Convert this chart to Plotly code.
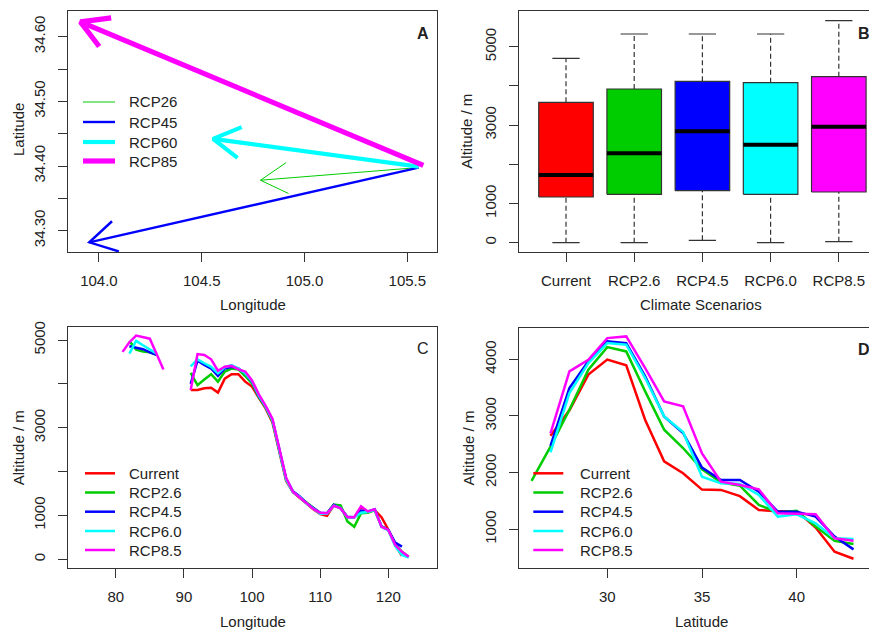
import math
import plotly.graph_objects as go

# The page body has an 8px default margin; the figure is sized so that it fills
# the 877x633 window exactly, and all positions below are given in window pixels.
OFF = 8
W, H = 877 - OFF, 633 - OFF
FONT = "Liberation Sans, Arial, sans-serif"

# ---------------- Panel A data (centroid shift arrows) ----------------
a_names = ["RCP26", "RCP45", "RCP60", "RCP85"]
a_start_lon = [105.550, 105.555, 105.555, 105.578]
a_start_lat = [34.3975, 34.3975, 34.399, 34.401]
a_end_lon = [104.786, 103.953, 104.555, 103.910]
a_end_lat = [34.378, 34.282, 34.442, 34.623]
a_colors = ["#00CD00", "#0000FF", "#00FFFF", "#FF00FF"]
a_widths = [1, 2.4, 4.2, 5.2]
a_xticks = [104.0, 104.5, 105.0, 105.5]
a_xtext = ["104.0", "104.5", "105.0", "105.5"]
a_yticks = [34.30, 34.35, 34.40, 34.45, 34.50, 34.55, 34.60]
a_ytext = ["34.30", "", "34.40", "", "34.50", "", "34.60"]

# ---------------- Panel B data (box plot) ----------------
b_cats = ["Current", "RCP2.6", "RCP4.5", "RCP6.0", "RCP8.5"]
b_low = [0, 0, 61, 0, 26]
b_q1 = [1166, 1235, 1327, 1235, 1293]
b_med = [1727, 2281, 2842, 2500, 2959]
b_q3 = [3582, 3921, 4117, 4082, 4235]
b_high = [4704, 5324, 5324, 5324, 5663]
b_colors = ["#FF0000", "#00CD00", "#0000FF", "#00FFFF", "#FF00FF"]

alt_ticks = [0, 1000, 2000, 3000, 4000, 5000]
alt_text = ["0", "1000", "", "3000", "", "5000"]

# ---------------- Panel C data (altitude vs longitude) ----------------
c_lon = list(range(81, 124))
c_current = [None, None, None, None, None, None, None, None, None, None,
             3860, 3860, 3900, 3910, 3800, 4120, 4220, 4220, 4050, 3940,
             3680, 3440, 3120, 2450, 1790, 1530, 1410, 1270, 1140, 1030,
             990, 1230, 1180, 950, 950, 1190, 1080, 1120, 960, 680,
             330, 80, None]
c_rcp26 = [None, 4980, 4780, 4740, 4720, 4660, None, None, None, None,
           4250, 3970, 4100, 4220, 4050, 4280, 4350, 4330, 4180, 4010,
           3700, 3460, 3150, 2480, 1820, 1540, 1420, 1280, 1160, 1050,
           1050, 1250, 1230, 860, 740, 1050, 1060, 1120, 750, 670,
           340, 170, 60]
c_rcp45 = [None, 4860, 4830, 4790, 4720, 4660, None, None, None, None,
           4000, 4530, 4430, 4350, 4180, 4350, 4390, 4350, 4240, 4050,
           3720, 3480, 3180, 2500, 1840, 1550, 1430, 1280, 1160, 1060,
           1050, 1240, 1160, 970, 960, 1110, 1090, 1140, 750, 670,
           380, 290, None]
c_rcp60 = [None, 4690, 4980, 4880, 4780, 4690, None, None, None, None,
           4400, 4560, 4470, 4390, 4240, 4380, 4430, 4350, 4240, 4060,
           3730, 3480, 3170, 2490, 1820, 1530, 1420, 1270, 1150, 1040,
           1040, 1220, 1170, 950, 950, 1060, 1080, 1130, 740, 660,
           300, 100, 40]
c_rcp85 = [4730, 4950, 5100, 5070, 5030, 4680, 4330, None, None, None,
           3860, 4680, 4660, 4560, 4300, 4390, 4410, 4330, 4280, 4080,
           3760, 3500, 3200, 2520, 1860, 1540, 1420, 1280, 1150, 1060,
           1050, 1220, 1160, 960, 960, 1210, 1090, 1140, 740, 670,
           330, 170, 60]
c_xticks = [80, 90, 100, 110, 120]

# ---------------- Panel D data (altitude vs latitude) ----------------
d_lat = list(range(26, 44))
d_current = [None, 2650, 3100, 3730, 3995, 3895, 2930, 2200, 1990, 1700,
             1695, 1585, 1340, 1320, 1320, 1030, 605, 480]
d_rcp26 = [1855, 2460, 3110, 3815, 4215, 4139, 3434, 2758, 2434, 2060,
           1830, 1770, 1430, 1295, 1325, 1047, 795, 741]
d_rcp45 = [None, 2470, 3493, 3963, 4316, 4286, 3698, 2992, 2700, 2090,
           1870, 1870, 1664, 1311, 1311, 1223, 870, 646]
d_rcp60 = [None, 2358, 3405, 3933, 4286, 4257, 3669, 2992, 2716, 1928,
           1811, 1799, 1605, 1223, 1264, 1105, 840, 828]
d_rcp85 = [None, 2693, 3787, 3992, 4374, 4404, 3845, 3257, 3169, 2340,
           1840, 1781, 1705, 1282, 1270, 1264, 840, 799]
d_xticks = [30, 35, 40]
d_yticks = [1000, 2000, 3000, 4000]

line_names = ["Current", "RCP2.6", "RCP4.5", "RCP6.0", "RCP8.5"]
line_colors = ["#FF0000", "#00CD00", "#0000FF", "#00FFFF", "#FF00FF"]


# ---------------- layout geometry (window pixels) ----------------
def px_x(p):
    return (p - OFF) / W


def px_y(p):
    return 1 - (p - OFF) / H


dom = {
    "A": ([68.3, 436.7], [11, 252]),
    "B": ([518.7, 877], [11, 251.7]),
    "C": ([68.3, 436.7], [327.3, 567.7]),
    "D": ([518.7, 877], [328.3, 567.7]),
}
rng = {
    "A": ([103.851, 105.643], [34.267, 34.6397]),
    "B": ([0.3065, 5.56], [-230, 5911]),
    "C": ([73.04, 127.1], [-192, 5290]),
    "D": ([25.322, 44.24], [322, 4547]),
}

fig = go.Figure()

# ---- Panel A arrows ----
(ax0, ax1), (ay0, ay1) = dom["A"]
(rx0, rx1), (ry0, ry1) = rng["A"]
xs = (ax1 - ax0) / (rx1 - rx0)   # px per unit lon
ys = (ay1 - ay0) / (ry1 - ry0)   # px per unit lat
HEAD_LEN = 31.0
HEAD_ANG = math.radians(30)
for i in range(len(a_names)):
    x0, y0 = a_start_lon[i], a_start_lat[i]
    x1, y1 = a_end_lon[i], a_end_lat[i]
    fig.add_trace(go.Scatter(x=[x0, x1], y=[y0, y1], mode="lines",
                             line=dict(color=a_colors[i], width=a_widths[i]),
                             xaxis="x", yaxis="y", showlegend=False, hoverinfo="skip"))
    dx = (x0 - x1) * xs
    dy = (y0 - y1) * ys
    ang = math.atan2(dy, dx)
    bx, by = [], []
    for s in (1, -1):
        bx.append(x1 + HEAD_LEN * math.cos(ang + s * HEAD_ANG) / xs)
        by.append(y1 + HEAD_LEN * math.sin(ang + s * HEAD_ANG) / ys)
    fig.add_trace(go.Scatter(x=[bx[0], x1, bx[1]], y=[by[0], y1, by[1]], mode="lines",
                             line=dict(color=a_colors[i], width=a_widths[i]),
                             xaxis="x", yaxis="y", showlegend=False, hoverinfo="skip"))

# ---- Panel B boxes ----
BW = 0.4
for i, cat in enumerate(b_cats):
    c = i + 1
    for ya, yb in ((b_q3[i], b_high[i]), (b_low[i], b_q1[i])):
        fig.add_trace(go.Scatter(x=[c, c], y=[ya, yb], mode="lines",
                                 line=dict(color="#333", width=1.2, dash="5px,3px"),
                                 xaxis="x2", yaxis="y2", showlegend=False, hoverinfo="skip"))
    for yv in (b_high[i], b_low[i]):
        fig.add_trace(go.Scatter(x=[c - BW / 2, c + BW / 2], y=[yv, yv], mode="lines",
                                 line=dict(color="#333", width=1.2),
                                 xaxis="x2", yaxis="y2", showlegend=False, hoverinfo="skip"))
    fig.add_trace(go.Scatter(x=[c - BW, c + BW, c + BW, c - BW, c - BW],
                             y=[b_q1[i], b_q1[i], b_q3[i], b_q3[i], b_q1[i]],
                             mode="lines", fill="toself", fillcolor=b_colors[i],
                             line=dict(color="#333", width=1.2),
                             xaxis="x2", yaxis="y2", showlegend=False, hoverinfo="skip"))
    fig.add_trace(go.Scatter(x=[c - BW, c + BW], y=[b_med[i], b_med[i]], mode="lines",
                             line=dict(color="#000", width=4),
                             xaxis="x2", yaxis="y2", showlegend=False, hoverinfo="skip"))

# ---- Panel C lines ----
for name, ys_, col in zip(line_names, [c_current, c_rcp26, c_rcp45, c_rcp60, c_rcp85], line_colors):
    fig.add_trace(go.Scatter(x=c_lon, y=ys_, mode="lines", name=name,
                             line=dict(color=col, width=2.5), connectgaps=False,
                             xaxis="x3", yaxis="y3", showlegend=False, hoverinfo="skip"))

# ---- Panel D lines ----
for name, ys_, col in zip(line_names, [d_current, d_rcp26, d_rcp45, d_rcp60, d_rcp85], line_colors):
    fig.add_trace(go.Scatter(x=d_lat, y=ys_, mode="lines", name=name,
                             line=dict(color=col, width=2.5), connectgaps=False,
                             xaxis="x4", yaxis="y4", showlegend=False, hoverinfo="skip"))

# ---------------- axes ----------------
tickfont = dict(family=FONT, size=15, color="#222")


def xaxis(panel, anchor, tickvals, ticktext=None, mirror=True):
    (x0, x1), (y0, y1) = dom[panel]
    d = dict(domain=[px_x(x0), min(1.0, px_x(x1))], range=rng[panel][0], anchor=anchor,
             showline=True, linecolor="#333", linewidth=1, mirror=mirror,
             ticks="outside", ticklen=9, tickcolor="#333", tickwidth=1,
             ticklabelstandoff=6,
             showgrid=False, zeroline=False, tickfont=tickfont, automargin=False,
             tickmode="array", tickvals=tickvals)
    if ticktext is not None:
        d["ticktext"] = ticktext
    return d


def yaxis(panel, anchor, tickvals, ticktext=None, mirror=True):
    (x0, x1), (y0, y1) = dom[panel]
    d = dict(domain=[px_y(y1), px_y(y0)], range=rng[panel][1], anchor=anchor,
             showline=True, linecolor="#333", linewidth=1, mirror=mirror,
             ticks="outside", ticklen=9, tickcolor="#333", tickwidth=1,
             ticklabelstandoff=7,
             showgrid=False, zeroline=False, tickfont=tickfont, tickangle=-90,
             automargin=False, tickmode="array", tickvals=tickvals)
    if ticktext is not None:
        d["ticktext"] = ticktext
    return d


fig.update_layout(
    template="none",
    width=W, height=H, autosize=False,
    margin=dict(l=0, r=0, t=0, b=0, pad=0),
    paper_bgcolor="white", plot_bgcolor="white",
    showlegend=False,
    xaxis=xaxis("A", "y", a_xticks, a_xtext),
    yaxis=yaxis("A", "x", a_yticks, a_ytext),
    xaxis2=xaxis("B", "y2", [1, 2, 3, 4, 5], b_cats),
    yaxis2=yaxis("B", "x2", alt_ticks, alt_text, mirror=False),
    xaxis3=xaxis("C", "y3", c_xticks),
    yaxis3=yaxis("C", "x3", alt_ticks, alt_text),
    xaxis4=xaxis("D", "y4", d_xticks),
    yaxis4=yaxis("D", "x4", d_yticks, mirror=False),
)

# ---------------- text annotations / legends ----------------
ann = []
shapes = []


def text(x, y, s, size=15, angle=0, xanchor="center", bold=False):
    ann.append(dict(x=px_x(x), y=px_y(y), xref="paper", yref="paper",
                    text=("<b>%s</b>" % s) if bold else s,
                    showarrow=False, textangle=angle, xanchor=xanchor, yanchor="middle",
                    font=dict(family=FONT, size=size, color="#222")))


# axis titles
text(252.5, 304.3, "Longitude")
text(18, 130, "Latitude", angle=-90)
text(700.8, 304.3, "Climate Scenarios")
text(466.7, 131, "Altitude / m", angle=-90)
text(252.5, 621.7, "Longitude")
text(18, 448.3, "Altitude / m", angle=-90)
text(701.7, 621.7, "Latitude")
text(468.3, 448.3, "Altitude / m", angle=-90)

# panel letters
text(423, 33, "A", size=16, bold=True)
text(864, 33, "B", size=16, bold=True)
text(423, 348.3, "C", size=16)
text(864, 349, "D", size=16, bold=True)


def legend(x_line0, x_line1, x_text, rows, names, colors, widths):
    for yv, nm, col, wd in zip(rows, names, colors, widths):
        shapes.append(dict(type="line", xref="paper", yref="paper",
                           x0=px_x(x_line0), x1=px_x(x_line1), y0=px_y(yv), y1=px_y(yv),
                           line=dict(color=col, width=wd)))
        text(x_text, yv, nm, xanchor="left")


legend(83, 115, 127, [102, 122, 142, 161], a_names, a_colors, a_widths)
legend(85, 115, 127, [473.3, 492.5, 511.7, 531, 550], line_names, line_colors, [2.5] * 5)
legend(533.3, 563.3, 577.5, [473.3, 492.5, 511.7, 531, 550], line_names, line_colors, [2.5] * 5)

fig.update_layout(annotations=ann, shapes=shapes)

fig.write_html("out.html")
